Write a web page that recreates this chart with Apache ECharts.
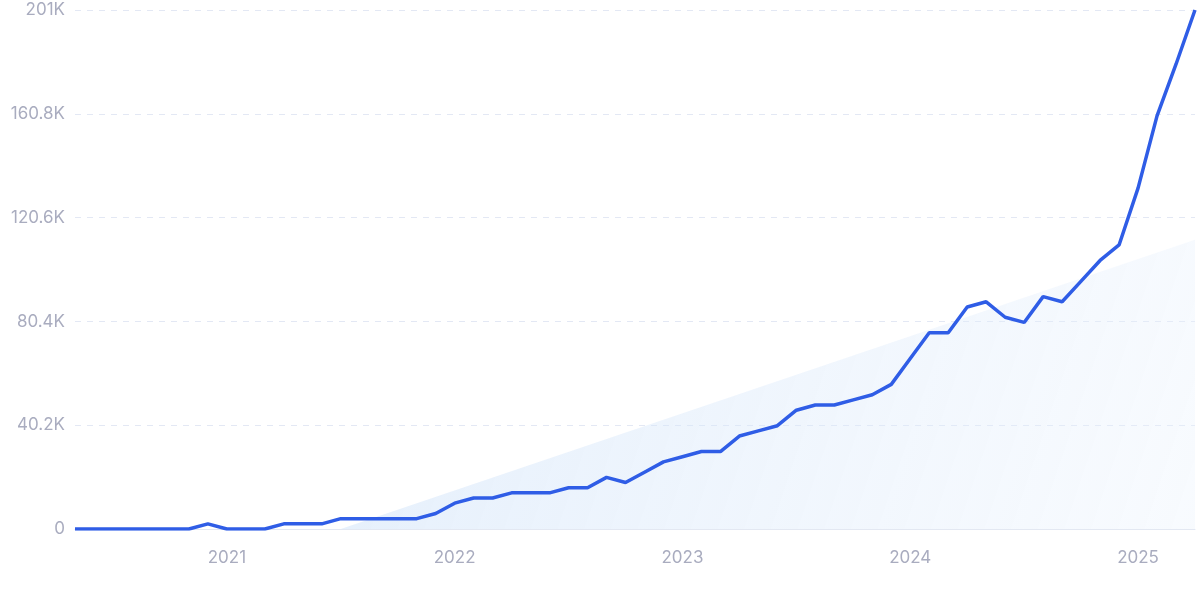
<!DOCTYPE html>
<html>
<head>
<meta charset="utf-8">
<script src="https://cdn.jsdelivr.net/npm/echarts@6/dist/echarts.min.js"></script>
<style>html,body{margin:0;padding:0;background:#fff}#chart{width:1200px;height:599px}</style>
</head>
<body>
<div id="chart"></div>
<script>
// months from 2020-05 to 2025-04
var months = [];
for (var y = 2020; y <= 2025; y++) {
  for (var m = 1; m <= 12; m++) {
    if ((y === 2020 && m < 5) || (y === 2025 && m > 4)) continue;
    months.push(y + '-' + (m < 10 ? '0' + m : m));
  }
}
var values = [0, 0, 0, 0, 0, 0, 0, 2000, 0, 0,
  0, 2000, 2000, 2000, 4000, 4000, 4000, 4000, 4000, 6000,
  10000, 12000, 12000, 14000, 14000, 14000, 16000, 16000, 20000, 18000,
  22000, 26000, 28000, 30000, 30000, 36000, 38000, 40000, 46000, 48000,
  48000, 50000, 52000, 56000, 66000, 76000, 76000, 86000, 88000, 82000,
  80000, 90000, 88000, 96000, 104000, 110000, 132000, 160000, 180000, 201000];
// trend endpoints
var trend = months.map(function () { return '-'; });
trend[14] = 0;
trend[59] = 112000;
var yTicks = [0, 40200, 80400, 120600, 160800, 201000];

var myChart = echarts.init(document.getElementById('chart'));
var option = {
  animation: false,
  grid: { left: 75, right: 5, top: 10, bottom: 70 },
  xAxis: {
    type: 'category',
    boundaryGap: false,
    data: months,
    axisLine: { lineStyle: { color: '#e3e8f2' } },
    axisTick: { show: false },
    axisLabel: {
      color: '#a9acbf', fontSize: 17, margin: 20, fontFamily: 'Inter',
      interval: function (i, v) { return v.slice(5) === '01'; },
      formatter: function (v) { return v.slice(0, 4); }
    }
  },
  yAxis: {
    type: 'value',
    min: 0, max: yTicks[yTicks.length - 1], interval: 40200,
    axisLine: { show: false },
    axisTick: { show: false },
    splitLine: { lineStyle: { color: '#e3e8f4', type: [6, 6] } },
    axisLabel: {
      color: '#a9acbf', fontSize: 17, margin: 10, fontFamily: 'Inter',
      formatter: function (v) { return v === 0 ? '0' : (v / 1000) + 'K'; }
    }
  },
  series: [{
    type: 'line',
    data: trend,
    connectNulls: true,
    symbol: 'none',
    lineStyle: { width: 0 },
    areaStyle: {
      color: new echarts.graphic.LinearGradient(0, 0, 1, 1, [
        { offset: 0, color: 'rgba(200,222,248,0.7)' },
        { offset: 1, color: 'rgba(235,243,253,0.5)' }
      ])
    },
    z: 1
  }, {
    type: 'line',
    data: values,
    symbol: 'none',
    lineStyle: { color: '#2f5de6', width: 3.5 },
    z: 2
  }]
};
myChart.setOption(option);
window.addEventListener('resize', function () { myChart.resize(); });
</script>
</body>
</html>
